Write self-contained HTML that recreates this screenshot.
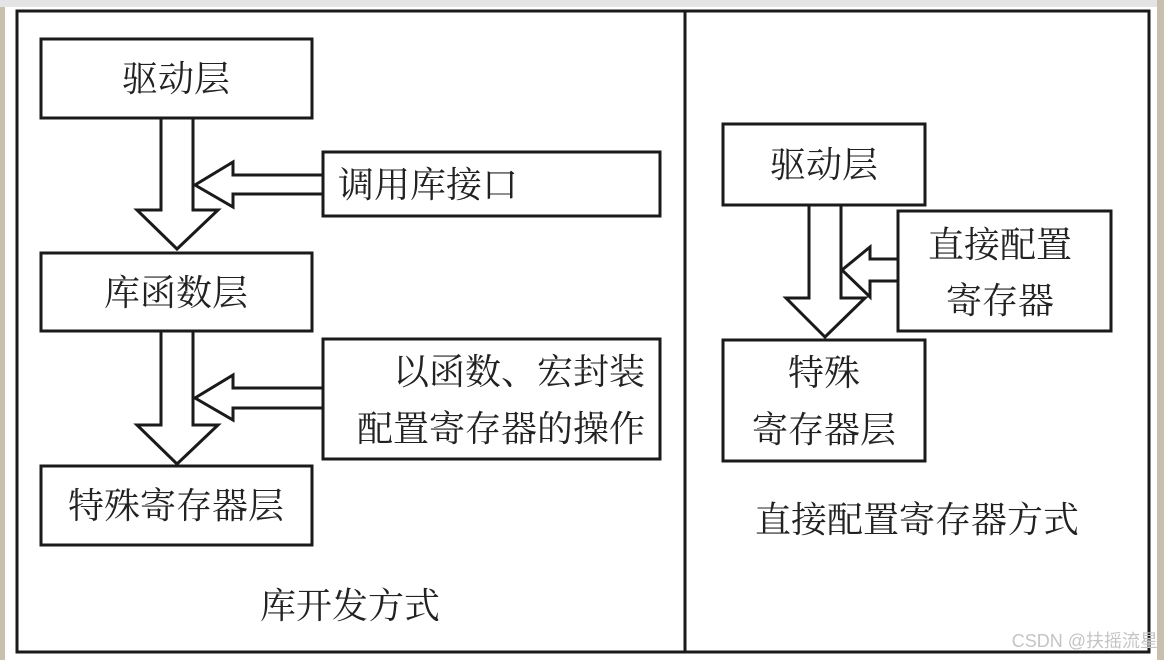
<!DOCTYPE html>
<html><head><meta charset="utf-8"><style>
html,body{margin:0;padding:0;background:#fff;}
svg{display:block;}
text{font-family:"Liberation Serif","Noto Serif CJK SC","Noto Sans CJK SC",serif;fill:#222;}
</style></head><body>
<svg width="1164" height="660" viewBox="0 0 1164 660" xmlns="http://www.w3.org/2000/svg">
<rect x="0" y="0" width="1164" height="660" fill="#fff"/>
<rect x="0" y="0" width="5" height="660" fill="#c8bfae"/>
<rect x="0" y="0" width="1164" height="7" fill="#e4e4e4"/>
<rect x="1157" y="0" width="7" height="660" fill="#c8bfae"/>
<g fill="none" stroke="#1a1a1a" stroke-width="3">
<rect x="17" y="11" width="1132" height="641"/>
<line x1="685" y1="11" x2="685" y2="652"/>
<!-- left boxes -->
<rect x="41" y="39" width="271" height="79" fill="#fff"/>
<rect x="41" y="253" width="271" height="78" fill="#fff"/>
<rect x="41" y="466" width="271" height="79" fill="#fff"/>
<rect x="323" y="152" width="337" height="64" fill="#fff"/>
<rect x="323" y="339" width="337" height="120" fill="#fff"/>
<!-- down arrows -->
<polygon points="161,118 193,118 193,210 218,210 177,249 137,210 161,210" fill="#fff"/>
<polygon points="161,331 193,331 193,425 218,425 177,464 137,425 161,425" fill="#fff"/>
<!-- left arrows -->
<polyline points="323,175 233,175 233,162 195,185 233,207 233,194 323,194"/>
<polyline points="323,388 233,388 233,375 195,398 233,420 233,408 323,408"/>
<!-- right side -->
<rect x="723" y="124" width="202" height="81" fill="#fff"/>
<rect x="898" y="211" width="213" height="120" fill="#fff"/>
<rect x="723" y="340" width="202" height="121" fill="#fff"/>
<polygon points="809,205 841,205 841,298 865,298 825,337 786,298 809,298" fill="#fff"/>
<polyline points="898,259 870,259 870,247 842,270 870,297 870,281 898,281"/>
</g>
<g font-size="36">
<text x="176" y="91" text-anchor="middle">驱动层</text>
<text x="176" y="305" text-anchor="middle">库函数层</text>
<text x="176" y="518" text-anchor="middle">特殊寄存器层</text>
<text x="338" y="197">调用库接口</text>
<text x="645" y="384" text-anchor="end">以函数、宏封装</text>
<text x="645" y="441" text-anchor="end">配置寄存器的操作</text>
<text x="350" y="618" text-anchor="middle">库开发方式</text>
<text x="824" y="177" text-anchor="middle">驱动层</text>
<text x="1000" y="257" text-anchor="middle">直接配置</text>
<text x="1000" y="313" text-anchor="middle">寄存器</text>
<text x="824" y="385" text-anchor="middle">特殊</text>
<text x="824" y="442" text-anchor="middle">寄存器层</text>
<text x="917" y="532" text-anchor="middle">直接配置寄存器方式</text>
</g>
<text x="1158" y="647" text-anchor="end" font-size="18" style="fill:#c4c4c4;font-family:'Liberation Sans','Noto Sans CJK SC',sans-serif">CSDN @扶摇流星</text>
</svg>
</body></html>
